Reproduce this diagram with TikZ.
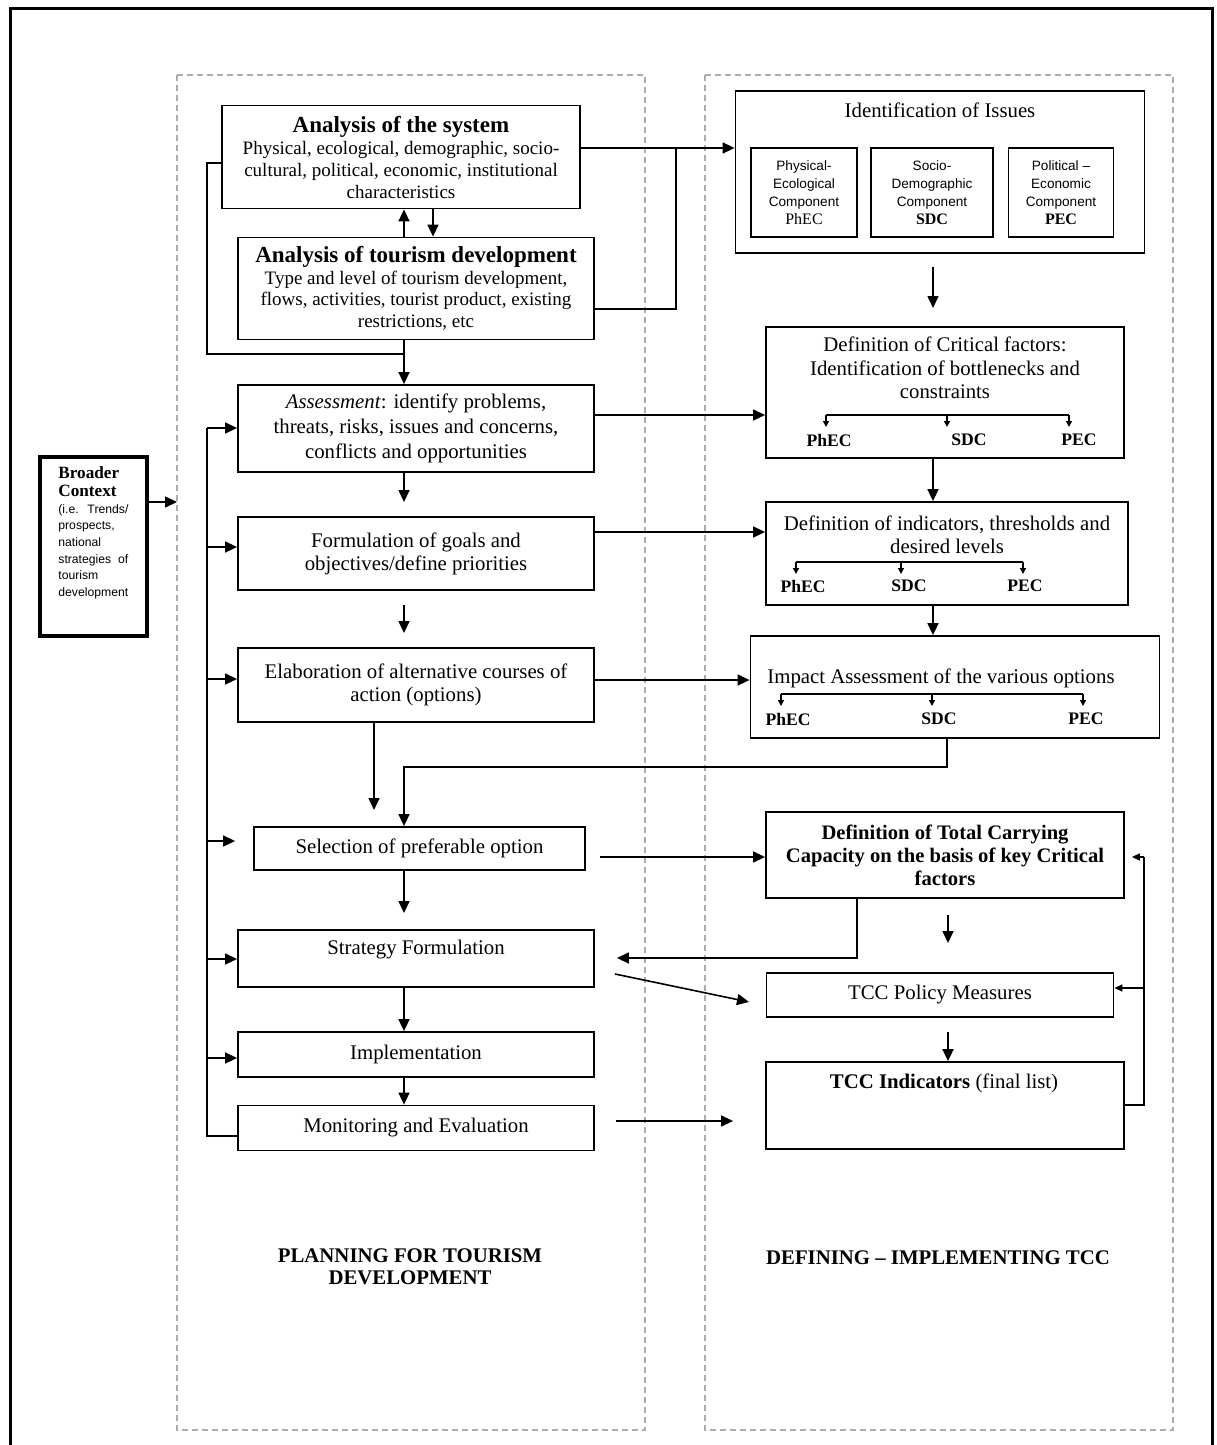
\documentclass[tikz,border=0pt]{standalone}
\usepackage{fontspec}
\setmainfont{Liberation Serif}
\newfontfamily\arialf{Liberation Sans}
\usetikzlibrary{arrows.meta}
\newcommand\bodyfs{\fontsize{10.4}{11.6}\selectfont}
\begin{document}
\begin{tikzpicture}[x=0.5pt,y=-0.5pt,
 box/.style={draw,line width=0.9pt,inner sep=0pt,align=center,font=\bodyfs},
 txt/.style={inner sep=0pt,align=center,font=\bodyfs},
 comp/.style={draw,line width=0.9pt,inner sep=0pt,align=center,font=\arialf\fontsize{6.8}{9}\selectfont},
 lab/.style={inner sep=0pt,font=\fontsize{8.8}{9}\selectfont\bfseries},
 ttl/.style={inner sep=0pt,align=center,font=\fontsize{10.4}{11}\selectfont\bfseries},
 ln/.style={line width=0.8pt},
 arr/.style={ln,-{Triangle[length=6pt,width=5.5pt]}},
 marr/.style={ln,-{Triangle[length=4pt,width=3.5pt]}},
 sarr/.style={line width=0.7pt,-{Triangle[length=3pt,width=3pt]}},
 dframe/.style={draw=gray!65,line width=0.8pt,dash pattern=on 3pt off 2pt}
]
\useasboundingbox (0,0) rectangle (1216,1445);
\fill[white] (0,0) rectangle (1216,1445);
% outer frame
\draw[line width=1.5pt] (10,1445) -- (10,9) -- (1212,9) -- (1212,1445);
% dashed frames
\draw[dframe] (177,75) rectangle (645,1430);
\draw[dframe] (705,75) rectangle (1173,1430);

% ---------- left column ----------
\node[box,minimum width=179pt,minimum height=51.5pt,font=\fontsize{9.5}{11}\selectfont] (sys) at (401,157)
 {{\fontsize{11.5}{12.5}\selectfont\bfseries Analysis of the system}\\ Physical, ecological, demographic, socio-\\ cultural, political, economic, institutional\\ characteristics};
\node[box,minimum width=178pt,minimum height=51pt,font=\fontsize{9.5}{10.8}\selectfont] (tour) at (416,288.5)
 {{\fontsize{11.5}{12.5}\selectfont\bfseries Analysis of tourism development}\\ Type and level of tourism development,\\ flows, activities, tourist product, existing\\ restrictions, etc};
\node[box,minimum width=178pt,minimum height=43.5pt,font=\fontsize{10.4}{12.5}\selectfont] (assess) at (416,428.5)
 {\textit{Assessment}: identify problems,\\ threats, risks, issues and concerns,\\ conflicts and opportunities};
\node[box,minimum width=178pt,minimum height=36.5pt] (goals) at (416,553.5)
 {Formulation of goals and\\ objectives/define priorities};
\node[box,minimum width=178pt,minimum height=37pt] (elab) at (416,685)
 {Elaboration of alternative courses of\\ action (options)};
\node[box,minimum width=165.5pt,minimum height=21.5pt] (select) at (419.5,848.5)
 {Selection of preferable option};
\node[box,minimum width=178pt,minimum height=28.5pt] (strategy) at (416,958.5) {};
\node[txt] (strattxt) at (416,950) {Strategy Formulation};
\node[box,minimum width=178pt,minimum height=22.5pt] (impl) at (416,1054.5) {Implementation};
\node[box,minimum width=178pt,minimum height=22.5pt] (monitor) at (416,1128) {Monitoring and Evaluation};

% broader context
\node[draw,line width=2pt,minimum width=53.5pt,minimum height=89.5pt,inner sep=0pt] (broader) at (93.5,546.5) {};
\node[anchor=north west,inner sep=0pt,text width=35pt,align=left] (bctext) at (58,466)
 {{\fontsize{8.6}{9.2}\selectfont\bfseries Broader\\ Context\par}
  {\arialf\fontsize{6.1}{8.3}\selectfont (i.e.\hfill Trends/\\ prospects,\\ national\\ strategies\hfill of\\ tourism\\ development\par}};

% ---------- right column ----------
\node[box,minimum width=204.5pt,minimum height=81pt] (issues) at (940,172) {};
\node[txt] (issuestxt) at (940,110) {Identification of Issues};
\node[comp,minimum width=53pt,minimum height=44.5pt] (cphec) at (804,192.5)
 {Physical-\\ Ecological\\ Component\\ {\rmfamily\fontsize{8}{9}\selectfont PhEC}};
\node[comp,minimum width=61pt,minimum height=44.5pt] (csdc) at (932,192.5)
 {Socio-\\ Demographic\\ Component\\ {\rmfamily\fontsize{8}{9}\selectfont\bfseries SDC}};
\node[comp,minimum width=52.5pt,minimum height=44.5pt] (cpec) at (1061,192.5)
 {Political –\\ Economic\\ Component\\ {\rmfamily\fontsize{8}{9}\selectfont\bfseries PEC}};

\node[box,minimum width=179pt,minimum height=65.5pt] (crit) at (945,392.5) {};
\node[txt,font=\fontsize{10.4}{11.75}\selectfont] (crittxt) at (945,368)
 {Definition of Critical factors:\\ Identification of bottlenecks and\\ constraints};
\node[lab] (crit1) at (829,440) {PhEC};
\node[lab] (crit2) at (969,440) {SDC};
\node[lab] (crit3) at (1079,440) {PEC};

\node[box,minimum width=181pt,minimum height=51.5pt] (indic) at (947,553.5) {};
\node[txt] (indictxt) at (947,534.5) {Definition of indicators, thresholds and\\ desired levels};
\node[lab] (ind1) at (803,586) {PhEC};
\node[lab] (ind2) at (909,586) {SDC};
\node[lab] (ind3) at (1025,586) {PEC};

\node[box,minimum width=204.5pt,minimum height=51pt] (impact) at (955,687) {};
\node[txt] (impacttxt) at (941,678) {Impact Assessment of the various options};
\node[lab] (imp1) at (788,719) {PhEC};
\node[lab] (imp2) at (939,719) {SDC};
\node[lab] (imp3) at (1086,719) {PEC};

\node[box,minimum width=179pt,minimum height=43pt,font=\fontsize{10.3}{11.5}\selectfont\bfseries] (tccdef) at (945,855)
 {Definition of Total Carrying\\ Capacity on the basis of key Critical\\ factors};
\node[box,minimum width=173.5pt,minimum height=22pt] (policy) at (940,995) {TCC Policy Measures};
\node[box,minimum width=179pt,minimum height=43.5pt] (final) at (945,1105.5) {};
\node[txt] (finaltxt) at (944,1083) {\textbf{TCC Indicators} (final list)};

% bottom titles
\node[ttl] (t1) at (410,1267) {PLANNING FOR TOURISM\\ DEVELOPMENT};
\node[ttl] (t2) at (938,1258) {DEFINING – IMPLEMENTING TCC};

% ---------- connectors left ----------
\draw[arr] (404,0 |- tour.north) -- (404,0 |- sys.south);
\draw[arr] (433,0 |- sys.south) -- (433,0 |- tour.north);
\draw[ln] (sys.west |- 0,163) -- (207,163) -- (207,354) -- (404,354);
\draw[arr] (404,0 |- tour.south) -- (404,0 |- assess.north);
\draw[arr] (sys.east |- 0,148) -- (issues.west |- 0,148);
\draw[ln] (tour.east |- 0,309) -- (676,309) -- (676,148);
\draw[arr] (assess.east |- 0,415) -- (crit.west |- 0,415);
\draw[arr] (404,0 |- assess.south) -- (404,502);
\draw[arr] (goals.east |- 0,532) -- (indic.west |- 0,532);
\draw[arr] (404,605) -- (404,633);
\draw[arr] (elab.east |- 0,680) -- (impact.west |- 0,680);
\draw[arr] (374,0 |- elab.south) -- (374,810);
\draw[arr] (947,0 |- impact.south) -- (947,767) -- (404,767) -- (404,0 |- select.north);
\draw[arr,shorten <=7pt] (select.east |- 0,857) -- (tccdef.west |- 0,857);
\draw[arr] (404,0 |- select.south) -- (404,913);
\draw[arr,shorten >=11pt] (857,0 |- tccdef.south) -- (857,958) -- (strategy.east |- 0,958);
\coordinate (dg1) at (615,974);
\coordinate (dg2) at (749,1002);
\draw[arr] (dg1) -- (dg2);
\draw[arr] (404,0 |- strategy.south) -- (404,0 |- impl.north);
\draw[arr] (404,0 |- impl.south) -- (404,0 |- monitor.north);
\draw[arr,shorten <=10.5pt,shorten >=16pt] (monitor.east |- 0,1121) -- (final.west |- 0,1121);
% feedback loop
\draw[ln] (monitor.west |- 0,1136) -- (207,1136) -- (207,428);
\draw[arr] (207,428) -- (assess.west |- 0,428);
\draw[arr] (207,547) -- (goals.west |- 0,547);
\draw[arr] (207,679) -- (elab.west |- 0,679);
\draw[arr,shorten >=9pt] (207,841) -- (select.west |- 0,841);
\draw[arr] (207,959) -- (strategy.west |- 0,959);
\draw[arr] (207,1058) -- (impl.west |- 0,1058);
\draw[arr] (broader.east |- 0,502) -- (177,502);

% ---------- connectors right ----------
\draw[arr] (933,267) -- (933,308);
\draw[arr] (933,0 |- crit.south) -- (933,0 |- indic.north);
\draw[arr] (933,0 |- indic.south) -- (933,0 |- impact.north);
\draw[arr] (948,915) -- (948,943);
\draw[arr] (948,1032) -- (948,0 |- final.north);
\draw[ln] (final.east |- 0,1105) -- (1144,1105) -- (1144,857);
\draw[marr,shorten >=3.5pt] (1144,857) -- (tccdef.east |- 0,857);
\draw[marr] (1144,988) -- (policy.east |- 0,988);
% branches
\draw[ln] (826,415) -- (1069,415);
\foreach \xx in {826,947,1069} \draw[sarr] (\xx,415) -- (\xx,427);
\draw[ln] (796,562) -- (1023,562);
\foreach \xx in {796,901,1023} \draw[sarr] (\xx,562) -- (\xx,574);
\draw[ln] (781,694) -- (1083,694);
\foreach \xx in {781,932,1083} \draw[sarr] (\xx,694) -- (\xx,706);
\end{tikzpicture}
\end{document}
